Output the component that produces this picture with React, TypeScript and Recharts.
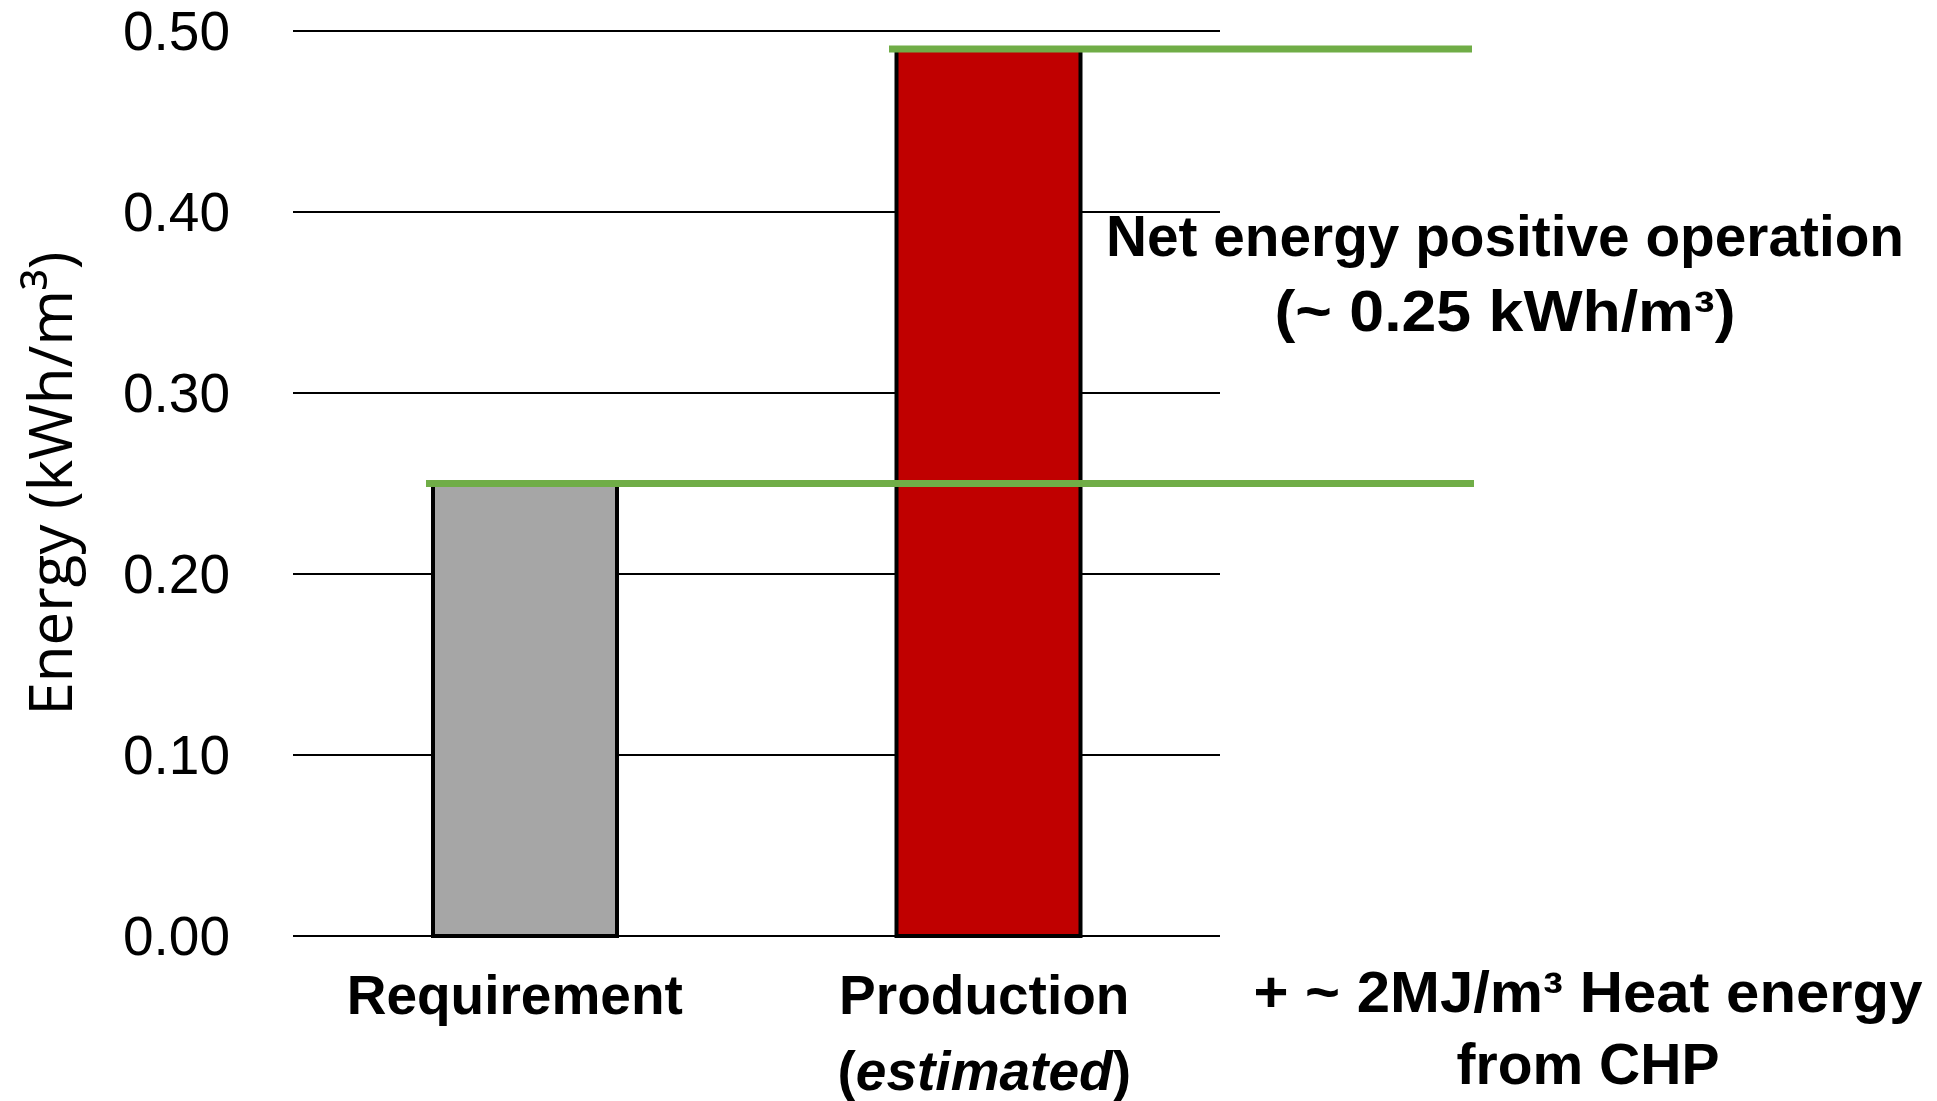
import React from "react";
import {
  BarChart,
  Bar,
  Cell,
  XAxis,
  YAxis,
  CartesianGrid,
  ReferenceLine,
} from "recharts";

// energy balance per m3 of treated water
const categories = ["Requirement", "Production"];
const energyValues = [0.25, 0.49];
const barColors = ["#A6A6A6", "#C00000"];
const yTicks = [0, 0.1, 0.2, 0.3, 0.4, 0.5];
const netLevels = [0.49, 0.25];

const data = categories.map((name, i) => ({ name, value: energyValues[i] }));

const GREEN = "#70AD47";
const BOLD = "'Liberation Sans', Arial, sans-serif";
const REG = "'Open Sans', 'Noto Sans', sans-serif";

// horizontal span of each green level line
const lineSpans: Record<number, [number, number]> = {
  0.49: [889, 1472],
  0.25: [426, 1474],
};

function GreenLine(props: any) {
  const level = props.level as number;
  const [a, b] = lineSpans[level];
  return <line x1={a} x2={b} y1={props.y1} y2={props.y2} stroke={GREEN} strokeWidth={7} />;
}

function CategoryTick(props: any) {
  const { x, y, payload } = props;
  if (payload.value === "Production") {
    return (
      <text x={x - 4} y={y} textAnchor="middle" fontFamily={BOLD} fontWeight="bold" fontSize={55} fill="#000">
        <tspan x={x - 4} dy={78}>Production</tspan>
        <tspan x={x - 4} dy={76}>
          (<tspan fontStyle="italic">estimated</tspan>)
        </tspan>
      </text>
    );
  }
  return (
    <text x={x - 10} y={y + 78} textAnchor="middle" fontFamily={BOLD} fontWeight="bold" fontSize={55} fill="#000">
      {payload.value}
    </text>
  );
}

function EnergyTick(props: any) {
  const { x, y, payload } = props;
  return (
    <text x={x} y={y + 19} textAnchor="end" fontFamily={BOLD} fontSize={55} fill="#000">
      {Number(payload.value).toFixed(2)}
    </text>
  );
}

function EnergyLabel(props: any) {
  const vb = props.viewBox;
  const cy = vb.y + vb.height / 2;
  return (
    <text
      x={49}
      y={cy}
      transform={`rotate(-90, 49, ${cy})`}
      textAnchor="middle"
      dominantBaseline="central"
      fontFamily={REG}
      fontSize={60}
      fill="#000"
    >
      Energy (kWh/m³)
    </text>
  );
}

export default function App() {
  return (
    <div style={{ position: "absolute", left: 0, top: 0, width: 1937, height: 1101, background: "#fff" }}>
      <BarChart
        width={1937}
        height={1101}
        data={data}
        margin={{ top: 31, right: 717, bottom: 0, left: 0 }}
        barCategoryGap="30%"
      >
        <CartesianGrid vertical={false} stroke="#000" strokeWidth={2} />
        <XAxis
          dataKey="name"
          axisLine={false}
          tickLine={false}
          tickSize={0}
          tickMargin={0}
          height={165}
          tick={<CategoryTick />}
          interval={0}
        />
        <YAxis
          domain={[0, 0.5]}
          ticks={yTicks}
          width={293}
          axisLine={false}
          tickLine={false}
          tickSize={0}
          tickMargin={63}
          tick={<EnergyTick />}
          label={<EnergyLabel />}
        />
        <Bar dataKey="value" barSize={184} stroke="#000" strokeWidth={4} isAnimationActive={false}>
          {data.map((d, i) => (
            <Cell key={d.name} fill={barColors[i]} />
          ))}
        </Bar>
        {netLevels.map((lv) => (
          <ReferenceLine key={lv} y={lv} ifOverflow="visible" shape={(p: any) => <GreenLine {...p} level={lv} />} />
        ))}
      </BarChart>
      <svg width={1937} height={1101} style={{ position: "absolute", left: 0, top: 0, pointerEvents: "none" }}>
        <g fontFamily={BOLD} fontWeight="bold" fill="#000" textAnchor="middle">
          <text x={1505} y={256} fontSize={57} textLength={798} lengthAdjust="spacingAndGlyphs">
            Net energy positive operation
          </text>
          <text x={1505} y={331} fontSize={57} textLength={461} lengthAdjust="spacingAndGlyphs">
            (~ 0.25 kWh/m³)
          </text>
          <text x={1588} y={1012} fontSize={57} textLength={669} lengthAdjust="spacingAndGlyphs">
            + ~ 2MJ/m³ Heat energy
          </text>
          <text x={1588} y={1084} fontSize={57}>
            from CHP
          </text>
        </g>
      </svg>
    </div>
  );
}
